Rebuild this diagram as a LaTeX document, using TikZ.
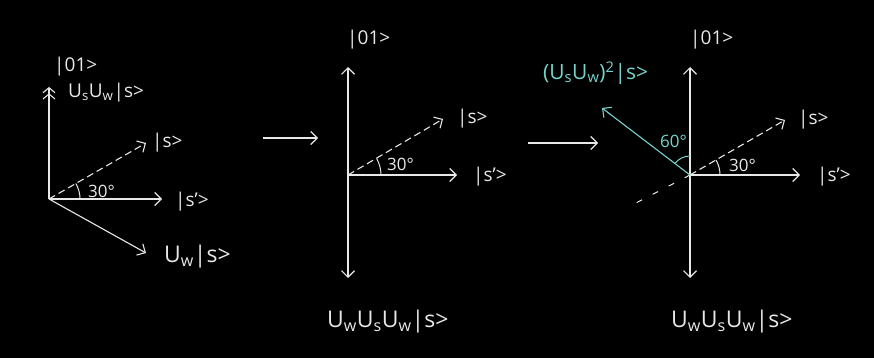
\documentclass[tikz,border=0pt]{standalone}
\usepackage{fontspec}
\setmainfont{Open Sans}
\usetikzlibrary{arrows.meta}
\definecolor{chalk}{RGB}{232,232,232}
\definecolor{aqua}{RGB}{118,212,204}
\begin{document}
\begin{tikzpicture}[x=1pt,y=-1pt,
  tip/.style={-{Straight Barb[length=6.5pt,width=13pt,line width=1.1pt]}},
  vec/.style={draw=chalk, line width=1.1pt, tip},
  dvec/.style={vec, dash pattern=on 7pt off 4pt},
  lbl/.style={text=chalk, font=\fontsize{19}{21}\selectfont, inner sep=0pt, anchor=west},
  big/.style={lbl, font=\fontsize{23}{25}\selectfont},
  ang/.style={lbl, font=\fontsize{17}{19}\selectfont},
  angarc/.style={draw=chalk, line width=1pt},
]
\fill[black] (0,0) rectangle (874,358);
\useasboundingbox (0,0) rectangle (874,358);

% ---------- panel 1 ----------
\coordinate (o1) at (49,199);
\coordinate (u1) at (49,87);
\coordinate (s1) at (146,143);
\coordinate (sp1) at (162,199);
\coordinate (w1) at (146,253);
\draw[draw=chalk, line width=1.1pt, -{Straight Barb[length=5pt,width=12pt,line width=1.1pt] Straight Barb[length=5pt,width=12pt,line width=1.1pt]}] (o1) -- (u1);
\draw[dvec] (o1) -- (s1);
\draw[vec] (o1) -- (sp1);
\draw[vec] (o1) -- (w1);
\draw[angarc] (o1) ++(31,0) arc[start angle=0, end angle=-30, radius=31];
\node[lbl] (n01a) at (54,67) {|01>};
\node[lbl] (nuu1) at (68,93) {U\textsubscript{s}U\textsubscript{w}|s>};
\node[lbl] (ns1) at (152,143) {|s>};
\node[lbl] (nsp1) at (175,202) {|s'>};
\node[big] (nw1) at (164,257) {U\textsubscript{w}|s>};
\node[ang] (a1) at (88,191) {30°};

% arrow 1 -> 2
\coordinate (m1a) at (263,138);
\coordinate (m1b) at (318,138);
\draw[vec] (m1a) -- (m1b);

% ---------- panel 2 ----------
\coordinate (o2) at (348,175);
\coordinate (u2) at (348,67);
\coordinate (d2) at (348,278);
\coordinate (s2) at (443,119);
\coordinate (sp2) at (457,175);
\draw[vec] (o2) -- (u2);
\draw[vec] (o2) -- (d2);
\draw[dvec] (o2) -- (s2);
\draw[vec] (o2) -- (sp2);
\draw[angarc] (o2) ++(33,0) arc[start angle=0, end angle=-30, radius=33];
\node[lbl] (n01b) at (347,40) {|01>};
\node[lbl] (ns2) at (457,119) {|s>};
\node[lbl] (nsp2) at (473,177) {|s'>};
\node[ang] (a2) at (387,164) {30°};
\node[big] (nb2) at (327,322) {U\textsubscript{w}U\textsubscript{s}U\textsubscript{w}|s>};

% arrow 2 -> 3
\coordinate (m2a) at (528,143);
\coordinate (m2b) at (598,143);
\draw[vec] (m2a) -- (m2b);

% ---------- panel 3 ----------
\coordinate (o3) at (690,175);
\coordinate (u3) at (690,67);
\coordinate (d3) at (690,278);
\coordinate (s3) at (785,120);
\coordinate (sp3) at (800,175);
\coordinate (c3) at (602,108);
\coordinate (e3) at (634,204);
\draw[vec] (o3) -- (u3);
\draw[vec] (o3) -- (d3);
\draw[dvec] (o3) -- (s3);
\draw[vec] (o3) -- (sp3);
\draw[draw=chalk, line width=1pt, dash pattern=on 6pt off 12pt] (o3) -- (e3);
\draw[vec, draw=aqua] (o3) -- (c3);
\draw[angarc] (o3) ++(30,0) arc[start angle=0, end angle=-30, radius=30];
\draw[angarc, draw=aqua] (o3) ++(0,-19) arc[start angle=-90, end angle=-143, radius=19];
\node[lbl] (n01c) at (690,40) {|01>};
\node[lbl, text=aqua, font=\fontsize{21}{23}\selectfont] (nc3) at (543,73) {(U\textsubscript{s}U\textsubscript{w})\textsuperscript{2}|s>};
\node[ang, text=aqua] (a60) at (660,141) {60°};
\node[ang] (a3) at (729,165) {30°};
\node[lbl] (ns3) at (798,120) {|s>};
\node[lbl] (nsp3) at (817,177) {|s'>};
\node[big] (nb3) at (671,322) {U\textsubscript{w}U\textsubscript{s}U\textsubscript{w}|s>};
\end{tikzpicture}
\end{document}
